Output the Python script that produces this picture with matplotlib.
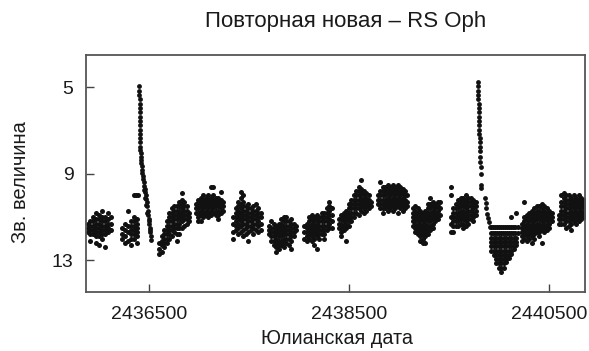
import matplotlib
matplotlib.use("Agg")
import matplotlib.pyplot as plt

plt.rcParams["font.family"] = ["Liberation Sans", "DejaVu Sans"]

title_text = "Повторная новая – RS Oph"
x_label = "Юлианская дата"
y_label = "Зв. величина"
x_ticks = [2436500, 2438500, 2440500]
y_ticks = [5, 9, 13]

# Observing seasons: each entry is (Julian date, [magnitudes measured near that date])
season_01 = [
    (2435885, [11.3, 11.5, 11.7]),
    (2435910, [11.2, 11.4, 11.6, 11.8, 12.1]),
    (2435940, [11.0, 11.2, 11.4, 11.6, 11.8]),
    (2435970, [10.8, 11.1, 11.3, 11.5, 11.7, 11.9, 12.2]),
    (2436000, [10.9, 11.1, 11.3, 11.5, 11.7, 11.9, 12.3]),
    (2436030, [10.7, 11.0, 11.2, 11.4, 11.6, 11.8, 12.0]),
    (2436060, [11.0, 11.2, 11.4, 11.6, 11.8, 12.4]),
    (2436090, [10.8, 11.1, 11.3, 11.5, 11.7]),
    (2436120, [11.0, 11.3, 11.6]),
]
season_02 = [
    (2436230, [11.5, 11.8, 12.0]),
    (2436260, [11.3, 11.6, 11.9, 12.2]),
    (2436290, [10.7, 11.4, 11.7, 12.1]),
    (2436320, [11.2, 11.4, 11.6, 11.8, 12.0, 12.3]),
    (2436345, [10.0, 11.0, 11.2, 11.4, 11.6, 11.8, 12.0]),
    (2436365, [10.0]),
    (2436380, [11.1, 11.3, 11.5, 11.7, 11.9, 12.2]),
    (2436390, [10.0]),
]
season_03 = [
    (2436600, [12.2, 12.5, 12.7]),
    (2436625, [11.9, 12.1, 12.3, 12.6]),
    (2436650, [11.6, 11.8, 12.0, 12.2, 12.4]),
    (2436675, [11.2, 11.4, 11.6, 11.8, 12.0, 12.2]),
    (2436700, [10.8, 11.0, 11.2, 11.4, 11.6, 11.8, 12.0]),
    (2436725, [10.6, 10.8, 11.0, 11.2, 11.4, 11.6, 11.9]),
    (2436750, [10.5, 10.7, 10.9, 11.1, 11.3, 11.5, 11.7]),
    (2436775, [10.5, 10.7, 10.9, 11.1, 11.3, 11.5, 11.8, 12.1]),
    (2436800, [10.3, 10.5, 10.7, 10.9, 11.1, 11.3, 11.5, 11.8]),
    (2436825, [9.9, 10.2, 10.4, 10.6, 10.8, 11.0, 11.2, 11.5]),
    (2436850, [10.3, 10.5, 10.7, 10.9, 11.1, 11.4]),
    (2436875, [10.5, 10.7, 10.9, 11.1, 11.3]),
    (2436900, [10.8, 11.0, 11.2]),
]
season_04 = [
    (2436965, [10.4, 10.6, 10.8]),
    (2436990, [10.2, 10.4, 10.6, 10.8, 11.0, 11.2]),
    (2437015, [10.1, 10.3, 10.5, 10.7, 10.9, 11.2]),
    (2437040, [10.0, 10.2, 10.4, 10.6, 10.8, 11.0]),
    (2437065, [10.1, 10.3, 10.5, 10.7, 10.9]),
    (2437090, [10.0, 10.2, 10.4, 10.6, 10.8, 11.0]),
    (2437115, [9.6, 10.1, 10.3, 10.5, 10.7, 10.9]),
    (2437140, [9.6, 10.0, 10.2, 10.4, 10.6, 10.8]),
    (2437165, [10.1, 10.3, 10.5, 10.7, 10.9]),
    (2437190, [10.1, 10.3, 10.5, 10.7, 10.9, 11.1]),
    (2437215, [9.85, 10.2, 10.4, 10.6, 10.8]),
    (2437240, [10.3, 10.5, 10.7]),
]
season_05 = [
    (2437340, [11.0, 11.3, 11.7, 12.0]),
    (2437365, [10.6, 10.8, 11.0, 11.2, 11.4, 11.6]),
    (2437390, [10.3, 10.5, 10.7, 10.9, 11.1, 11.3, 11.5, 11.8]),
    (2437415, [9.85, 10.1, 10.4, 10.6, 10.8, 11.0, 11.2, 11.4, 11.7]),
    (2437440, [10.0, 10.3, 10.5, 10.7, 10.9, 11.1, 11.3, 11.6, 11.9]),
    (2437465, [10.5, 10.7, 10.9, 11.1, 11.3, 11.5, 11.8]),
    (2437490, [10.4, 10.6, 10.8, 11.0, 11.2, 11.4, 11.7, 12.1]),
    (2437515, [10.6, 10.8, 11.0, 11.2, 11.4, 11.6]),
    (2437540, [10.5, 10.7, 10.9, 11.1, 11.3, 11.5, 11.8]),
    (2437565, [10.4, 10.7, 10.9, 11.1, 11.3, 11.6]),
    (2437590, [10.6, 10.8, 11.0, 11.2, 11.4, 11.7]),
    (2437615, [10.8, 11.0, 11.3, 11.6]),
]
season_06 = [
    (2437695, [11.4, 11.6, 11.8]),
    (2437720, [11.2, 11.5, 11.7, 11.9, 12.1]),
    (2437745, [11.3, 11.5, 11.7, 11.9, 12.1, 12.3]),
    (2437770, [11.4, 11.6, 11.8, 12.0, 12.2, 12.4, 12.6]),
    (2437795, [11.3, 11.5, 11.7, 11.9, 12.1, 12.3, 12.5]),
    (2437820, [11.1, 11.3, 11.5, 11.7, 11.9, 12.1, 12.3]),
    (2437845, [11.0, 11.2, 11.4, 11.6, 11.8, 12.0, 12.2, 12.4]),
    (2437870, [11.0, 11.2, 11.4, 11.6, 11.8, 12.0, 12.2]),
    (2437895, [11.2, 11.4, 11.6, 11.8, 12.0, 12.3]),
    (2437920, [11.1, 11.3, 11.5, 11.7, 11.9, 12.1, 12.5]),
    (2437945, [11.3, 11.5, 11.7, 11.9]),
    (2437970, [11.4, 11.6]),
]
season_07 = [
    (2438050, [11.4, 11.7, 12.0]),
    (2438075, [11.3, 11.5, 11.7, 11.9, 12.1]),
    (2438100, [11.0, 11.2, 11.4, 11.6, 11.8, 12.0]),
    (2438125, [10.9, 11.1, 11.3, 11.5, 11.7, 11.9, 12.1]),
    (2438150, [11.0, 11.2, 11.4, 11.6, 11.8, 12.0, 12.3]),
    (2438175, [10.9, 11.1, 11.3, 11.5, 11.7, 11.9, 12.5]),
    (2438200, [11.0, 11.2, 11.4, 11.6, 11.8, 12.0]),
    (2438225, [10.8, 11.0, 11.2, 11.4, 11.6, 11.8]),
    (2438250, [10.8, 11.0, 11.2, 11.4, 11.6, 11.8, 12.0]),
    (2438275, [10.6, 10.8, 11.0, 11.2, 11.4, 11.6]),
    (2438300, [10.3, 10.5, 10.7, 10.9, 11.1, 11.3, 11.5]),
    (2438325, [10.6, 10.9, 11.2, 11.5]),
]
season_08 = [
    (2438395, [11.1, 11.3, 11.5]),
    (2438420, [10.9, 11.1, 11.3, 11.5, 11.7, 11.9]),
    (2438445, [10.8, 11.0, 11.2, 11.4, 11.6]),
    (2438470, [10.7, 10.9, 11.1, 11.3, 11.5, 12.1]),
    (2438495, [10.4, 10.6, 10.8, 11.0, 11.2, 11.4]),
    (2438520, [10.2, 10.4, 10.6, 10.8, 11.0, 11.2]),
    (2438545, [10.0, 10.2, 10.4, 10.6, 10.8, 11.0]),
    (2438570, [9.8, 10.0, 10.2, 10.4, 10.6, 10.8]),
    (2438595, [9.6, 9.8, 10.0, 10.2, 10.4, 10.6, 10.9]),
    (2438620, [9.3, 9.7, 9.9, 10.1, 10.3, 10.5, 10.7]),
    (2438645, [9.8, 10.0, 10.2, 10.4, 10.6, 10.8]),
    (2438670, [9.9, 10.1, 10.3, 10.5, 10.7]),
    (2438695, [10.0, 10.2, 10.4, 10.6]),
    (2438715, [10.3, 10.5]),
]
season_09 = [
    (2438785, [10.0, 10.2, 10.4]),
    (2438810, [9.4, 9.8, 10.0, 10.2, 10.4, 10.6]),
    (2438835, [9.6, 9.8, 10.0, 10.2, 10.4, 10.6, 10.8]),
    (2438860, [9.6, 9.8, 10.0, 10.2, 10.4, 10.6]),
    (2438885, [9.5, 9.7, 9.9, 10.1, 10.3, 10.5, 10.7]),
    (2438910, [9.6, 9.8, 10.0, 10.2, 10.4, 10.6]),
    (2438935, [9.5, 9.7, 9.9, 10.1, 10.3, 10.5, 10.7]),
    (2438960, [9.6, 9.8, 10.0, 10.2, 10.4, 10.6]),
    (2438985, [9.5, 9.7, 9.9, 10.1, 10.3, 10.5, 10.8]),
    (2439010, [9.6, 9.8, 10.0, 10.2, 10.4, 10.6]),
    (2439035, [9.7, 9.9, 10.1, 10.3, 10.5, 10.7]),
    (2439060, [9.8, 10.0, 10.2, 10.4, 10.6]),
    (2439080, [10.0, 10.3, 10.5]),
]
season_10 = [
    (2439135, [10.6, 10.8, 11.0, 11.2, 11.4]),
    (2439160, [10.5, 10.7, 10.9, 11.1, 11.3, 11.5, 11.7]),
    (2439185, [10.6, 10.8, 11.0, 11.2, 11.4, 11.6, 11.8]),
    (2439210, [10.7, 10.9, 11.1, 11.3, 11.5, 11.7, 11.9, 12.1]),
    (2439235, [10.8, 11.0, 11.2, 11.4, 11.6, 11.8, 12.0, 12.2]),
    (2439260, [10.7, 10.9, 11.1, 11.3, 11.5, 11.7, 11.9, 12.2]),
    (2439285, [10.4, 10.6, 10.8, 11.0, 11.2, 11.4, 11.6, 11.8]),
    (2439310, [10.1, 10.4, 10.6, 10.8, 11.0, 11.2, 11.4, 11.6]),
    (2439335, [10.3, 10.5, 10.7, 10.9, 11.1, 11.3, 11.5]),
    (2439360, [10.4, 10.6, 10.8, 11.0, 11.2]),
    (2439385, [10.3, 10.5, 10.7, 10.9, 11.1]),
    (2439410, [10.3, 10.6, 10.9]),
]
season_11 = [
    (2439515, [9.6, 10.0, 11.0, 11.3, 11.7]),
    (2439540, [10.6, 10.8, 11.0, 11.2, 11.4, 11.7]),
    (2439565, [10.4, 10.6, 10.8, 11.0, 11.2, 11.4]),
    (2439590, [10.2, 10.4, 10.6, 10.8, 11.0, 11.2, 11.4]),
    (2439615, [10.1, 10.3, 10.5, 10.7, 10.9, 11.1, 11.3]),
    (2439640, [10.1, 10.3, 10.5, 10.7, 10.9, 11.1, 11.3, 11.5]),
    (2439665, [10.0, 10.2, 10.4, 10.6, 10.8, 11.0, 11.2, 11.4]),
    (2439690, [10.1, 10.3, 10.5, 10.7, 10.9, 11.1, 11.3]),
    (2439715, [10.1, 10.3, 10.5, 10.7, 10.9, 11.1]),
    (2439740, [10.2, 10.4, 10.6, 10.8, 11.0, 11.2]),
    (2439765, [10.3, 10.5, 10.7, 10.9]),
]
season_12 = [
    (2439920, [11.45, 11.75, 11.95, 12.15, 12.35, 12.55]),
    (2439940, [11.45, 11.75]),
    (2439945, [11.95, 12.15, 12.35, 12.55, 12.75]),
    (2439960, [11.45, 11.75]),
    (2439970, [11.95, 12.15, 12.35, 12.55, 12.75, 12.95, 13.15]),
    (2439980, [11.45, 11.75]),
    (2439995, [11.95, 12.15, 12.35, 12.55, 12.75, 12.95, 13.15, 13.35]),
    (2440000, [11.45, 11.75]),
    (2440020, [11.45, 11.75, 11.95, 12.15, 12.35, 12.55, 12.75, 12.95, 13.15, 13.35, 13.55]),
    (2440040, [11.45, 11.75]),
    (2440045, [11.95, 12.15, 12.35, 12.55, 12.75, 12.95, 13.15, 13.35]),
    (2440060, [11.45, 11.75]),
    (2440070, [11.95, 12.15, 12.35, 12.55, 12.75, 12.95, 13.1]),
    (2440080, [11.45, 11.75]),
    (2440095, [11.95, 12.15, 12.35, 12.55, 12.75, 12.9]),
    (2440100, [11.45, 11.75]),
    (2440120, [11.0, 11.45, 11.75, 11.95, 12.15, 12.35, 12.55, 12.7]),
    (2440140, [11.45, 11.75]),
    (2440145, [11.95, 12.15, 12.35, 12.5]),
    (2440160, [11.45, 11.75]),
    (2440170, [10.8, 11.95, 12.15, 12.3]),
    (2440185, [11.45, 11.75]),
]
season_13 = [
    (2440225, [11.3, 11.5, 11.7, 11.9, 12.1]),
    (2440250, [10.3, 11.0, 11.2, 11.4, 11.6, 11.8, 12.0]),
    (2440275, [10.9, 11.1, 11.3, 11.5, 11.7, 11.9, 12.1]),
    (2440300, [10.8, 11.0, 11.2, 11.4, 11.6, 11.8, 12.0]),
    (2440325, [10.7, 10.9, 11.1, 11.3, 11.5, 11.7, 11.9, 12.2]),
    (2440350, [10.6, 10.8, 11.0, 11.2, 11.4, 11.6, 11.8, 12.0]),
    (2440375, [10.5, 10.7, 10.9, 11.1, 11.3, 11.5, 11.7]),
    (2440400, [10.5, 10.7, 10.9, 11.1, 11.3, 11.5, 11.7, 11.9]),
    (2440425, [10.4, 10.6, 10.8, 11.0, 11.2, 11.4, 11.6, 12.2]),
    (2440450, [10.5, 10.7, 10.9, 11.1, 11.3, 11.5, 11.7]),
    (2440475, [10.6, 10.8, 11.0, 11.2, 11.4, 11.6]),
    (2440500, [10.7, 10.9, 11.1, 11.3, 11.5]),
    (2440525, [10.8, 11.0, 11.2]),
]
season_14 = [
    (2440595, [10.9, 11.1, 11.3]),
    (2440620, [10.0, 10.3, 10.5, 10.7, 10.9, 11.1, 11.3]),
    (2440645, [9.9, 10.1, 10.3, 10.5, 10.7, 10.9, 11.1, 11.3]),
    (2440670, [10.0, 10.2, 10.4, 10.6, 10.8, 11.0, 11.2, 11.5]),
    (2440695, [10.0, 10.2, 10.4, 10.6, 10.8, 11.0, 11.2, 11.4]),
    (2440720, [10.1, 10.3, 10.5, 10.7, 10.9, 11.1, 11.3, 11.6]),
    (2440745, [10.0, 10.2, 10.4, 10.6, 10.8, 11.0, 11.2]),
    (2440770, [10.1, 10.3, 10.5, 10.7, 10.9, 11.1, 11.3]),
    (2440795, [10.0, 10.2, 10.4, 10.6, 10.8, 11.0, 11.2]),
    (2440820, [10.1, 10.3, 10.5, 10.7, 10.9, 11.1]),
    (2440845, [10.2, 10.4, 10.6, 10.8, 11.0]),
    (2440865, [10.3, 10.6, 10.9]),
]

# 1958 outburst: rise and decline
outburst_1958_jd = [2436403, 2436404, 2436404, 2436405, 2436405, 2436406, 2436406, 2436407,
                    2436408, 2436408, 2436409, 2436410, 2436411, 2436412, 2436413, 2436414,
                    2436416, 2436418, 2436420, 2436423, 2436426, 2436429, 2436433, 2436437,
                    2436441, 2436446, 2436451, 2436456, 2436461, 2436466, 2436471, 2436476,
                    2436481, 2436486, 2436491, 2436496, 2436501, 2436506, 2436511, 2436516,
                    2436449, 2436460, 2436472, 2436484, 2436496, 2436508, 2436518]
outburst_1958_mag = [4.95, 5.15, 5.35, 5.55, 5.75, 5.95, 6.15, 6.35,
                     6.55, 6.75, 6.95, 7.15, 7.35, 7.55, 7.75, 7.9,
                     8.05, 8.2, 8.35, 8.5, 8.65, 8.8, 8.95, 9.1,
                     9.25, 9.4, 9.55, 9.7, 9.85, 10.0, 10.15, 10.3,
                     10.5, 10.7, 10.9, 11.1, 11.3, 11.5, 11.7, 11.9,
                     9.75, 10.1, 10.45, 10.8, 11.2, 11.6, 12.05]

# 1967 outburst: rise and decline
outburst_1967_jd = [2439790, 2439791, 2439792, 2439793, 2439794, 2439795, 2439796, 2439797,
                    2439798, 2439800, 2439801, 2439802, 2439803, 2439805, 2439806, 2439808,
                    2439810, 2439812, 2439813, 2439815, 2439817, 2439819, 2439821,
                    2439860, 2439866, 2439872, 2439878, 2439886, 2439895, 2439905]
outburst_1967_mag = [4.75, 4.95, 5.15, 5.35, 5.55, 5.75, 5.95, 6.15,
                     6.35, 6.55, 6.75, 6.95, 7.15, 7.35, 7.55, 7.75,
                     7.95, 8.2, 8.45, 8.7, 9.0, 9.5, 9.65,
                     10.1, 10.35, 10.6, 10.85, 11.05, 11.25, 11.45]


def expand(columns):
    jd, mag = [], []
    for day, mags in columns:
        jd.extend([day] * len(mags))
        mag.extend(mags)
    return jd, mag


seasons = [season_01, season_02, season_03, season_04, season_05, season_06, season_07,
           season_08, season_09, season_10, season_11, season_12, season_13, season_14]

season_jd, season_mag = [], []
for season in seasons:
    j, m = expand(season)
    season_jd += j
    season_mag += m
burst_jd = outburst_1958_jd + outburst_1967_jd
burst_mag = outburst_1958_mag + outburst_1967_mag

fig = plt.figure(figsize=(5.89, 3.51), dpi=100)
ax = fig.add_axes([86 / 589, 1 - 292 / 351, (585 - 86) / 589, (292 - 55) / 351])

ax.scatter(season_jd, season_mag, s=13, c="#111111", linewidths=0)
ax.scatter(burst_jd, burst_mag, s=12, c="#111111", linewidths=0)

ax.set_xlim(2435870, 2440860)
ax.set_ylim(14.47, 3.5)

ax.set_xticks(x_ticks)
ax.set_xticklabels([str(t) for t in x_ticks])
ax.set_yticks(y_ticks)
ax.set_yticklabels([str(t) for t in y_ticks])
ax.tick_params(direction="in", length=6, width=1, color="#444444",
               labelsize=14, labelcolor="#1a1a1a", pad=9)
ax.tick_params(axis="x", pad=10)
for spine in ax.spines.values():
    spine.set_color("#555555")
    spine.set_linewidth(1.3)

fig.text(346 / 589, 1 - 22 / 351, title_text, ha="center", va="center",
         fontsize=16, color="#1a1a1a")
fig.text(337 / 589, 1 - 339 / 351, x_label, ha="center", va="center",
         fontsize=14.2, color="#1a1a1a")
fig.text(21 / 589, 1 - 182 / 351, y_label, ha="center", va="center",
         rotation=90, fontsize=14.5, color="#1a1a1a")

fig.savefig("out.png", dpi=100)
